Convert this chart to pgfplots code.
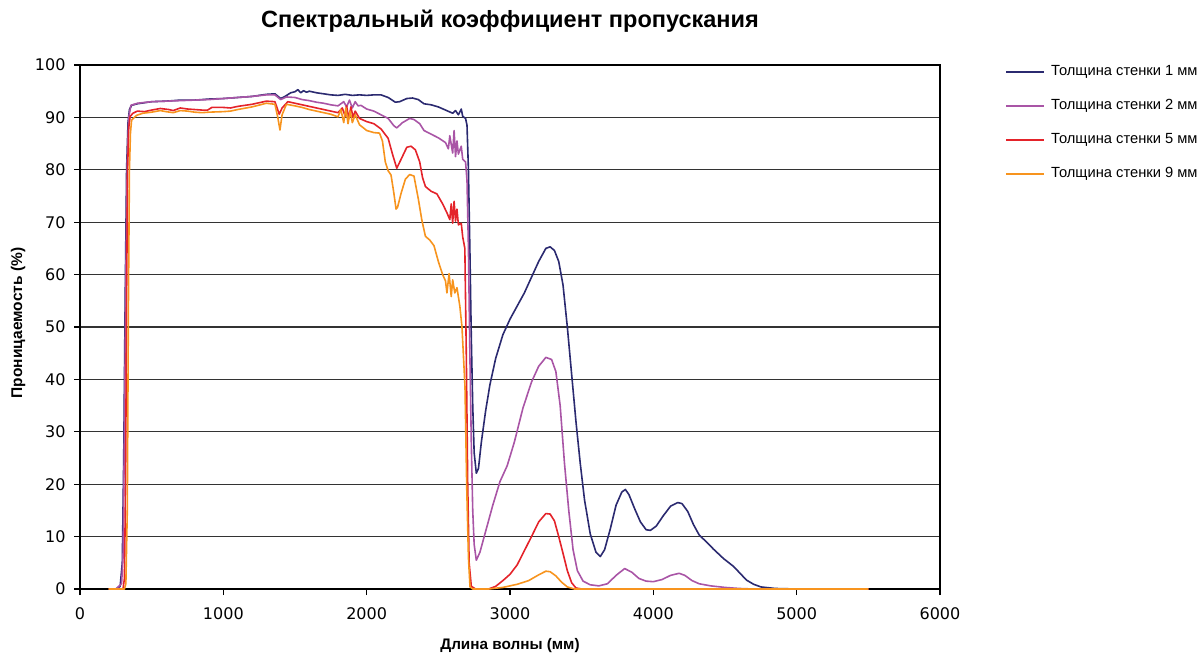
\documentclass[border=0pt]{standalone}
\usepackage{fontspec}
\setmainfont{Liberation Sans}
\newfontfamily\tickfont{DejaVu Sans}
\usepackage{pgfplots}
\pgfplotsset{compat=1.18}
\definecolor{cNavy}{RGB}{43,42,112}
\definecolor{cPurple}{RGB}{169,85,166}
\definecolor{cRed}{RGB}{228,35,42}
\definecolor{cOrange}{RGB}{247,148,30}
\begin{document}
\begin{tikzpicture}
\useasboundingbox (0pt,0pt) rectangle (1204pt,-655pt);
\begin{axis}[
  at={(80pt,-589pt)}, anchor=south west,
  width=860pt, height=524pt, scale only axis,
  xmin=0, xmax=6000, ymin=0, ymax=100,
  xtick={0,1000,...,6000}, ytick={0,10,...,100},
  scaled x ticks=false, scaled y ticks=false,
  /pgf/number format/1000 sep={},
  /pgf/number format/assume math mode=true,
  xtick pos=left, ytick pos=left,
  tick align=outside, major tick length=6pt,
  tick style={black, line width=1.2pt},
  axis line style={black, line width=1.4pt},
  ymajorgrids, grid style={black!80, line width=1.3pt},
  ticklabel style={font=\tickfont\fontsize{16}{16}\selectfont},
  yticklabel style={xshift=-5pt},
  xticklabel style={yshift=-9pt},
  legend style={at={(1.0756,1.0)}, anchor=north west, draw=none, fill=none,
    inner sep=0pt, row sep=21pt, column sep=6pt,
    nodes={inner sep=0pt, text height=10pt, text depth=3pt},
    font=\fontsize{14.7}{15}\selectfont, cells={anchor=west}},
  legend image code/.code={\draw[#1, line width=2pt] (0pt,0pt) -- (38pt,0pt);},
  every axis plot/.append style={line width=1.6pt, line join=round},
]
\addplot[cNavy] coordinates {
(200,0)(250,0)(280,0.5)(295,5)(305,25)(315,55)(325,80)(335,89)(345,91.5)(360,92.3)
(400,92.6)(500,93.0)(600,93.1)(700,93.3)(800,93.3)(900,93.5)(1000,93.6)(1100,93.8)
(1200,94.0)(1300,94.4)(1360,94.5)(1400,93.6)(1430,94.0)(1470,94.7)(1500,94.9)
(1520,95.3)(1540,94.7)(1560,95.1)(1580,94.8)(1600,95.0)(1650,94.7)(1700,94.5)
(1750,94.3)(1800,94.2)(1850,94.4)(1900,94.2)(1950,94.3)(2000,94.2)(2050,94.3)
(2100,94.3)(2150,93.8)(2200,92.9)(2230,93.0)(2280,93.6)(2320,93.7)(2360,93.4)
(2400,92.6)(2450,92.4)(2500,92.0)(2550,91.4)(2600,90.8)(2620,91.3)(2640,90.5)
(2660,91.6)(2670,90.2)(2690,89.8)(2700,88.5)(2710,80)(2720,65)(2730,48)(2740,35)
(2750,26)(2765,22.1)(2780,23)(2800,28)(2830,34)(2860,39)(2900,44)(2950,48.5)
(3000,51.5)(3050,54)(3100,56.5)(3150,59.5)(3200,62.5)(3250,65)(3280,65.3)
(3310,64.6)(3340,62.5)(3370,58)(3400,50)(3430,41)(3460,32)(3490,24)(3520,17)
(3560,10.5)(3600,7)(3630,6.2)(3660,7.5)(3700,11.5)(3740,16)(3780,18.5)(3805,19)
(3830,18)(3870,15.3)(3910,12.8)(3950,11.3)(3980,11.2)(4020,12)(4070,14)(4120,15.8)
(4170,16.5)(4200,16.3)(4240,14.8)(4280,12.3)(4320,10.3)(4370,9.0)(4420,7.6)
(4490,5.8)(4560,4.3)(4650,1.7)(4700,0.9)(4750,0.4)(4850,0.1)(5000,0)(5500,0)
};
\addlegendentry{Толщина стенки 1 мм}
\addplot[cPurple] coordinates {
(250,0)(290,1)(300,6)(310,30)(320,60)(330,82)(340,90)(355,92.3)(400,92.7)
(500,93.0)(700,93.2)(900,93.4)(1000,93.6)(1200,94.0)(1300,94.3)(1360,94.3)
(1400,93.4)(1440,93.9)(1500,93.8)(1550,93.4)(1600,93.2)(1650,92.9)(1700,92.7)
(1750,92.4)(1800,92.2)(1840,93.0)(1860,92.0)(1880,93.3)(1900,91.8)(1920,93.0)
(1940,92.2)(1960,92.3)(2000,91.6)(2050,91.2)(2100,90.5)(2150,89.8)(2190,88.4)
(2210,88.0)(2250,89.0)(2300,89.8)(2330,89.6)(2370,88.8)(2400,87.5)(2450,86.8)
(2500,86.1)(2550,85.2)(2570,84.0)(2580,86.5)(2600,83.2)(2610,87.5)(2620,82.5)
(2630,85.5)(2640,83.0)(2660,84.5)(2670,82.0)(2690,81.5)(2700,78)(2710,65)
(2720,45)(2730,28)(2740,15)(2750,8.5)(2765,5.5)(2790,7)(2830,11)(2880,16)
(2930,20.5)(2980,23.5)(3030,28)(3090,34.5)(3150,39.5)(3200,42.5)(3250,44.2)
(3290,43.8)(3320,41.5)(3350,35)(3380,24)(3410,15)(3440,7.5)(3470,3.5)(3510,1.5)
(3560,0.8)(3620,0.6)(3680,1)(3740,2.6)(3800,3.9)(3850,3.2)(3900,2)(3950,1.5)
(4000,1.4)(4060,1.8)(4120,2.6)(4180,3.0)(4220,2.6)(4270,1.6)(4320,1.0)(4400,0.6)
(4500,0.3)(4600,0.1)(4700,0)(5500,0)
};
\addlegendentry{Толщина стенки 2 мм}
\addplot[cRed] coordinates {
(200,0)(300,0)(310,2)(318,20)(325,55)(332,80)(340,88)(350,90.2)(370,90.8)
(400,91.2)(450,91.1)(500,91.4)(560,91.7)(620,91.5)(650,91.3)(700,91.8)(750,91.6)
(800,91.5)(850,91.4)(890,91.4)(920,91.9)(1000,91.9)(1050,91.8)(1100,92.1)
(1200,92.5)(1300,93.1)(1360,93.0)(1390,90.6)(1410,91.8)(1450,93.0)(1500,92.7)
(1550,92.4)(1600,92.1)(1650,91.8)(1700,91.5)(1750,91.2)(1800,90.9)(1830,91.8)
(1850,90.2)(1860,92.2)(1875,89.8)(1890,92.0)(1905,90.0)(1920,91.2)(1950,89.8)
(2000,89.2)(2050,88.8)(2100,87.8)(2150,86.0)(2180,83.0)(2210,80.3)(2240,82)
(2280,84.3)(2310,84.5)(2340,83.8)(2370,81.5)(2390,78.5)(2410,76.8)(2450,75.9)
(2490,75.4)(2530,73.5)(2560,71.8)(2580,70.5)(2590,73.5)(2600,69.8)(2610,74.0)
(2620,70.2)(2630,72.5)(2640,69.5)(2660,69.8)(2670,67.2)(2685,65)(2695,45)
(2705,20)(2715,5)(2730,0.5)(2760,0)(2850,0)(2900,0.5)(2950,1.6)(3000,2.8)
(3050,4.6)(3100,7.3)(3150,10)(3200,12.8)(3250,14.4)(3280,14.3)(3310,13)
(3340,10)(3370,6.8)(3400,3.5)(3430,1.2)(3460,0.2)(3500,0)(5500,0)
};
\addlegendentry{Толщина стенки 5 мм}
\addplot[cOrange] coordinates {
(200,0)(310,0)(320,1)(330,15)(338,55)(345,80)(352,87)(360,89.5)(395,90.4)
(440,90.8)(500,91.0)(560,91.3)(600,91.1)(650,90.9)(700,91.3)(750,91.2)(800,91.0)
(850,90.9)(900,91.0)(1000,91.1)(1050,91.2)(1100,91.5)(1200,92.0)(1300,92.7)
(1360,92.5)(1380,90)(1395,87.6)(1410,90.5)(1440,92.5)(1500,92.2)(1550,91.9)
(1600,91.5)(1650,91.2)(1700,90.9)(1750,90.6)(1800,90.1)(1820,91.5)(1840,89.0)
(1855,91.8)(1870,88.8)(1885,91.2)(1900,89.0)(1920,90.5)(1950,88.6)(2000,87.5)
(2050,87.1)(2090,87.0)(2110,85.5)(2130,81.5)(2150,79.8)(2170,79)(2190,75.5)
(2205,72.5)(2215,72.8)(2240,75.5)(2270,78.2)(2300,79.1)(2330,78.8)(2360,74.5)
(2385,70.4)(2410,67.3)(2440,66.6)(2470,65.5)(2500,62.5)(2530,60)(2550,58.8)
(2560,56.5)(2575,60.2)(2590,55.8)(2600,59.0)(2615,56.5)(2630,57.5)(2650,54)
(2665,50)(2686,38.6)(2698,19.5)(2710,6)(2721,0.4)(2740,0)(2850,0)(2950,0.3)
(3050,0.9)(3130,1.6)(3200,2.7)(3250,3.4)(3280,3.3)(3320,2.5)(3360,1.3)
(3400,0.4)(3450,0)(5500,0)
};
\addlegendentry{Толщина стенки 9 мм}
\end{axis}
\node[font=\bfseries\fontsize{23.5}{24}\selectfont] at (510pt,-21pt) {Спектральный коэффициент пропускания};
\node[rotate=90, font=\bfseries\fontsize{15.5}{16}\selectfont] at (18pt,-323pt) {Проницаемость (\%)};
\node[font=\bfseries\fontsize{15.3}{16}\selectfont] at (510pt,-646pt) {Длина волны (мм)};
\end{tikzpicture}
\end{document}
